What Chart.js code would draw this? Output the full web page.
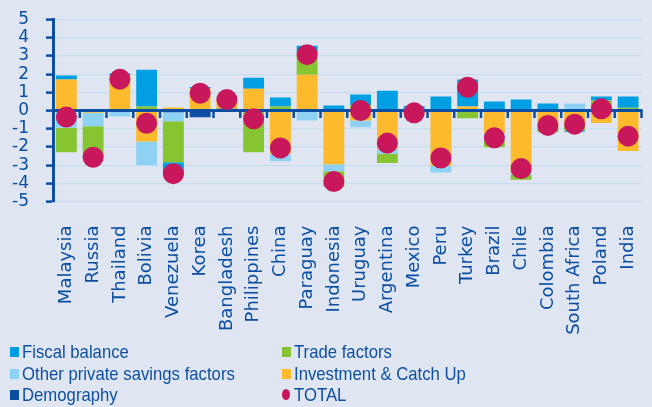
<!DOCTYPE html>
<html>
<head>
<meta charset="utf-8">
<script src="https://cdn.jsdelivr.net/npm/chart.js@4.4.0/dist/chart.umd.min.js"></script>
<style>
body{margin:0;background:#dfe6f2;}
#wrap{position:relative;width:652px;height:407px;overflow:hidden;}
#grafico{position:absolute;left:0;top:0;}
#legenda{position:absolute;left:0;top:341px;width:652px;font-family:'Liberation Sans',Arial,sans-serif;font-size:19px;color:#0e4f9e;}
.item{position:absolute;height:21px;line-height:21px;white-space:nowrap;}
.item i{position:absolute;left:0;top:6px;width:9px;height:10px;}
.item span{position:absolute;left:12px;top:0;transform:scaleX(0.88);transform-origin:0 50%;}
</style>
</head>
<body>
<div id="wrap">
  <canvas id="grafico" width="652" height="407"></canvas>
  <div id="legenda"></div>
</div>
<script>
// Dados
const paises = ['Malaysia','Russia','Thailand','Bolivia','Venezuela','Korea','Bangladesh','Philippines','China','Paraguay','Indonesia','Uruguay','Argentina','Mexico','Peru','Turkey','Brazil','Chile','Colombia','South Africa','Poland','India'];
const demografia  = [0, 0, 0, 0, -0.1, -0.37, 0.1, 0, 0, 0, 0, 0, 0, 0, 0, 0, 0, 0, 0, 0.08, 0, 0];
const investimento = [1.70, -0.12, 1.95, -1.70, 0.16, 1.19, 0.5, 1.2, -2.37, 1.97, -2.96, -0.55, -2.1, -0.3, -3.03, 0.22, -1.25, -3.45, -0.9, -0.75, -0.69, -2.23];
const outrosPrivados = [-0.95, -0.75, -0.33, -1.31, -0.49, 0, 0, 0, -0.42, -0.55, -0.38, -0.37, -0.27, -0.08, -0.38, 0, -0.4, -0.1, 0, 0.3, 0, 0];
const comercio = [-1.35, -1.55, 0, 0.22, -2.25, 0.05, 0, -2.3, 0.22, 1.25, -0.85, 0.3, -0.51, 0, 0, -0.42, -0.37, -0.26, -0.29, -0.35, 0.55, 0.15];
const fiscal = [0.22, -0.1, 0.1, 2.02, -0.75, 0.05, 0.05, 0.6, 0.49, 0.34, 0.27, 0.58, 1.09, 0.25, 0.77, 1.48, 0.5, 0.6, 0.38, -0.07, 0.22, 0.62];
const total = [-0.36, -2.57, 1.72, -0.7, -3.47, 0.95, 0.6, -0.46, -2.06, 3.07, -3.9, 0.0, -1.79, -0.13, -2.61, 1.28, -1.5, -3.19, -0.82, -0.75, 0.09, -1.41];
const ticksY = [5, 4, 3, 2, 1, 0, -1, -2, -3, -4, -5];

// Cores
const AZUL_ESCURO = '#0b4ea2';
const cores = {
  fiscal: '#009fe3', comercio: '#86c531', outros: '#8ed2f3',
  investimento: '#fdba2c', demografia: '#0b4ea2', total: '#c8185b'
};

// Legenda (duas colunas)
const legenda = [
  ['Fiscal balance', cores.fiscal, 0, 0],
  ['Trade factors', cores.comercio, 1, 0],
  ['Other private savings factors', cores.outros, 0, 1],
  ['Investment & Catch Up', cores.investimento, 1, 1],
  ['Demography', cores.demografia, 0, 2],
  ['TOTAL', cores.total, 1, 2]
];
const divLeg = document.getElementById('legenda');
legenda.forEach(([txt, cor, col, lin]) => {
  const d = document.createElement('div');
  d.className = 'item';
  d.style.left = (col ? 282 : 10) + 'px';
  d.style.top = (lin * 21.5) + 'px';
  const redondo = txt === 'TOTAL' ? 'border-radius:50%;width:8px;height:11px;top:5px;' : '';
  d.innerHTML = `<i style="background:${cor};${redondo}"></i><span>${txt}</span>`;
  divLeg.appendChild(d);
});

// Linha do zero com marcas entre categorias (desenhada antes dos pontos)
const linhaZero = {
  id: 'linhaZero',
  beforeDatasetDraw(chart, args){
    if(args.meta.type !== 'line') return;
    const {ctx, chartArea, scales:{x, y}} = chart;
    const y0 = y.getPixelForValue(0);
    ctx.save();
    ctx.strokeStyle = AZUL_ESCURO;
    ctx.lineWidth = 3;
    ctx.beginPath(); ctx.moveTo(chartArea.left, y0); ctx.lineTo(chartArea.right + 1, y0); ctx.stroke();
    ctx.lineWidth = 2.5;
    for(let i = 1; i <= paises.length; i++){
      const px = x.getPixelForValue(i - 0.5);
      ctx.beginPath(); ctx.moveTo(px, y0); ctx.lineTo(px, y0 + 7.5); ctx.stroke();
    }
    ctx.restore();
  }
};

// sem padding extra das escalas: a area do grafico fica so pelo layout.padding
const semPadding = s => { s.paddingTop = 0; s.paddingBottom = 0; s.paddingLeft = 0; s.paddingRight = 0; };

const barra = (label, data, cor) => ({ type:'bar', label, data, backgroundColor: cor, borderWidth: 0, categoryPercentage: 1, barPercentage: 0.78 });

new Chart(document.getElementById('grafico'), {
  data: {
    labels: paises,
    datasets: [
      barra('Demography', demografia, cores.demografia),
      barra('Investment & Catch Up', investimento, cores.investimento),
      barra('Other private savings factors', outrosPrivados, cores.outros),
      barra('Trade factors', comercio, cores.comercio),
      barra('Fiscal balance', fiscal, cores.fiscal),
      { type:'line', label:'TOTAL', data: total, stack:'total', order: -1, showLine:false,
        pointRadius: 10.5, pointHoverRadius: 10.5, pointBorderWidth: 0,
        pointBackgroundColor: cores.total, borderColor: cores.total }
    ]
  },
  options: {
    responsive: false,
    animation: false,
    layout: { padding: { top: 19.5, right: 6, left: 0, bottom: 70.5 } },
    plugins: { legend: { display: false }, tooltip: { enabled: false } },
    scales: {
      x: {
        stacked: true,
        grid: { display: false },
        border: { display: false },
        ticks: { color: AZUL_ESCURO, font: { family: 'DejaVu Sans', size: 18 }, minRotation: 90, maxRotation: 90, padding: 16, autoSkip: false },
        afterFit: s => { s.height = 135; semPadding(s); }
      },
      y: {
        stacked: true,
        min: -5, max: 5,
        afterBuildTicks: s => { s.ticks = ticksY.map(v => ({ value: v })); },
        ticks: { color: AZUL_ESCURO, font: { family: 'DejaVu Sans', size: 17 }, padding: 17, autoSkip: false, callback: v => String(v) },
        grid: {
          color: c => c.tick && c.tick.value === 0 ? 'rgba(0,0,0,0)' : '#c6def0',
          lineWidth: 1.2, tickColor: AZUL_ESCURO, tickLength: 7, tickWidth: 2.5
        },
        border: { display: true, color: AZUL_ESCURO, width: 3 },
        afterFit: s => { s.width = 53; semPadding(s); }
      }
    }
  },
  plugins: [linhaZero]
});
</script>
</body>
</html>
